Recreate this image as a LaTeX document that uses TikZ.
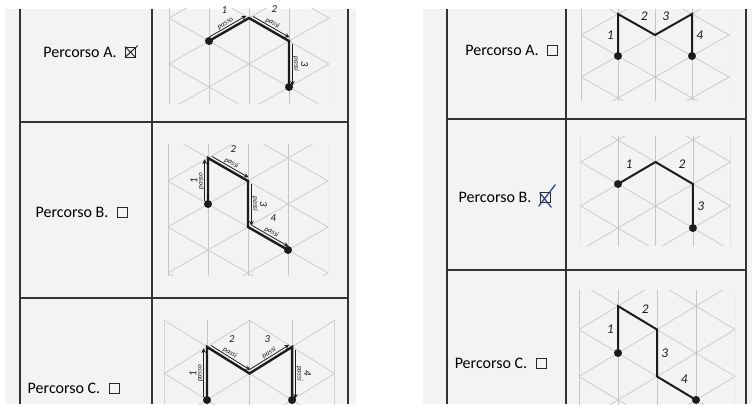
\documentclass[tikz,border=0pt]{standalone}
\usepackage{fontspec}
\setmainfont{Carlito}
\usetikzlibrary{positioning,calc}

\definecolor{paper}{HTML}{F3F3F3}
\definecolor{gridgray}{HTML}{C6C6C6}
\definecolor{ink}{HTML}{1C1C1C}
\definecolor{pen}{HTML}{2B3A8C}

% triangular lattice between rows #1 and #2
\newcommand{\trigrid}[2]{%
  \begin{scope}
    \clip (-1,#1) rectangle (3,#2);
    \foreach \i in {-1,...,3}
      \draw[gridline] (\i,-8) -- (\i,8);
    \foreach \k in {-10,-8,...,10} {
      \draw[gridline] (-1,\k-1) -- (3,\k+3);
      \draw[gridline] (-1,\k+1) -- (3,\k-3);
    }
  \end{scope}}

\begin{document}
\begin{tikzpicture}[x=0.75pt,y=-0.75pt,
    gridline/.style={gridgray,line width=0.5pt},
    tablerule/.style={black!80,line width=0.8pt},
    caption/.style={font=\fontsize{12}{14}\selectfont,inner sep=0pt},
    tickbox/.style={draw=black!85,line width=0.6pt,minimum size=7.5pt,inner sep=0pt},
    route/.style={ink,line width=1.8pt,line join=miter},
    stepnote/.style={sloped,allow upside down,above=3pt,inner sep=0pt,
        font=\fontsize{5.5}{6}\selectfont\itshape,ink},
    stepdigit/.style={inner sep=0pt,font=\fontsize{8}{8}\selectfont\itshape,ink},
    steparrow/.style={->,>=stealth,ink,line width=0.6pt,shorten <=2pt,shorten >=1pt},
    stepnum/.style={auto,inner sep=2.5pt,font=\fontsize{10}{10}\selectfont\itshape,ink}]
    \useasboundingbox (0,0) rectangle (755,404);

    % Draw the two sheets
    \fill[paper] (5,9) rectangle (356,404);
    \fill[paper] (423,9) rectangle (752,404);

    % Draw table rules
    \foreach \x in {20,152,348}
        \draw[tablerule] (\x,9) -- (\x,404);
    \foreach \y in {122,298}
        \draw[tablerule] (20,\y) -- (348,\y);
    \foreach \x in {447,566,746}
        \draw[tablerule] (\x,9) -- (\x,404);
    \foreach \y in {119,270}
        \draw[tablerule] (447,\y) -- (746,\y);

    % Left sheet: captions
    \node[caption] (tLA) at (80,52) {Percorso A.};
    \node[tickbox, right=6pt of tLA] (bLA) {};
    \draw[ink,line width=0.7pt] (bLA.north west) -- (bLA.south east)
        (bLA.south west) -- ($(bLA.north east)+(2,-1)$);
    \node[caption] (tLB) at (72,212) {Percorso B.};
    \node[tickbox, right=6pt of tLB] (bLB) {};
    \node[caption] (tLC) at (64,388) {Percorso C.};
    \node[tickbox, right=6pt of tLC] (bLC) {};

    % Left sheet: path A
    \begin{scope}[shift={(209,41)},x=30pt,y=17.25pt]
        \trigrid{1.4}{-2.7}
        \coordinate (la0) at (0,0);
        \coordinate (la1) at (1,1);
        \coordinate (la2) at (2,0);
        \coordinate (la3) at (2,-2);
    \end{scope}
    \draw[route] (la0) -- (la1) -- (la2) -- (la3);
    \path (la0) -- node[stepnote] (pa1) {passo} (la1);
    \path (la1) -- node[stepnote] (pa2) {passi} (la2);
    \path (la2) -- node[stepnote] (pa3) {passi} (la3);
    \node[stepdigit, above=5.5pt of pa1] {1};
    \node[stepdigit, above=5.5pt of pa2] {2};
    \node[stepdigit, rotate=-90, anchor=south] at ($(pa3.north)+(1,0)$) {3};
    \draw[steparrow] ($(la0)!2.5pt!90:(la1)$) -- ($(la1)!2.5pt!-90:(la0)$);
    \draw[steparrow] ($(la1)!2.5pt!90:(la2)$) -- ($(la2)!2.5pt!-90:(la1)$);
    \draw[steparrow] ($(la2)!2.5pt!90:(la3)$) -- ($(la3)!2.5pt!-90:(la2)$);
    \fill[ink] (la0) circle (3pt) (la3) circle (3pt);

    % Left sheet: path B
    \begin{scope}[shift={(208,204)},x=30pt,y=17.25pt]
        \trigrid{2.57}{-3.1}
        \coordinate (lb0) at (0,0);
        \coordinate (lb1) at (0,2);
        \coordinate (lb2) at (1,1);
        \coordinate (lb3) at (1,-1);
        \coordinate (lb4) at (2,-2);
    \end{scope}
    \draw[route] (lb0) -- (lb1) -- (lb2) -- (lb3) -- (lb4);
    \path (lb0) -- node[stepnote] (pb1) {passo} (lb1);
    \path (lb1) -- node[stepnote] (pb2) {passi} (lb2);
    \path (lb2) -- node[stepnote] (pb3) {passi} (lb3);
    \path (lb3) -- node[stepnote] (pb4) {passi} (lb4);
    \node[stepdigit, rotate=90, anchor=south] at ($(pb1.north)+(-1,0)$) {1};
    \node[stepdigit, above=5.5pt of pb2] {2};
    \node[stepdigit, rotate=-90, anchor=south] at ($(pb3.north)+(1,0)$) {3};
    \node[stepdigit, above=5.5pt of pb4] {4};
    \draw[steparrow] ($(lb0)!2.5pt!90:(lb1)$) -- ($(lb1)!2.5pt!-90:(lb0)$);
    \draw[steparrow] ($(lb1)!2.5pt!90:(lb2)$) -- ($(lb2)!2.5pt!-90:(lb1)$);
    \draw[steparrow] ($(lb2)!2.5pt!90:(lb3)$) -- ($(lb3)!2.5pt!-90:(lb2)$);
    \draw[steparrow] ($(lb3)!2.5pt!90:(lb4)$) -- ($(lb4)!2.5pt!-90:(lb3)$);
    \fill[ink] (lb0) circle (3pt) (lb4) circle (3pt);

    % Left sheet: path C
    \begin{scope}[shift={(207,400)},x=31.9pt,y=19.9pt]
        \trigrid{3.0}{-1.2}
        \coordinate (lc0) at (0,0);
        \coordinate (lc1) at (0,2);
        \coordinate (lc2) at (1,1);
        \coordinate (lc3) at (2,2);
        \coordinate (lc4) at (2,0);
    \end{scope}
    \draw[route] (lc0) -- (lc1) -- (lc2) -- (lc3) -- (lc4);
    \path (lc0) -- node[stepnote] (pc1) {passo} (lc1);
    \path (lc1) -- node[stepnote,pos=0.45] (pc2) {passi} (lc2);
    \path (lc2) -- node[stepnote,pos=0.55] (pc3) {passi} (lc3);
    \path (lc3) -- node[stepnote] (pc4) {passi} (lc4);
    \node[stepdigit, rotate=90, anchor=south] at ($(pc1.north)+(-1,0)$) {1};
    \node[stepdigit, above=5.5pt of pc2] {2};
    \node[stepdigit, above=5.5pt of pc3] {3};
    \node[stepdigit, rotate=-90, anchor=south] at ($(pc4.north)+(1,0)$) {4};
    \draw[steparrow] ($(lc0)!2.5pt!90:(lc1)$) -- ($(lc1)!2.5pt!-90:(lc0)$);
    \draw[steparrow] ($(lc1)!2.5pt!90:(lc2)$) -- ($(lc2)!2.5pt!-90:(lc1)$);
    \draw[steparrow] ($(lc2)!2.5pt!90:(lc3)$) -- ($(lc3)!2.5pt!-90:(lc2)$);
    \draw[steparrow] ($(lc3)!2.5pt!90:(lc4)$) -- ($(lc4)!2.5pt!-90:(lc3)$);
    \fill[ink] (lc0) circle (3pt) (lc4) circle (3pt);

    % Right sheet: captions
    \node[caption] (tRA) at (502,50) {Percorso A.};
    \node[tickbox, right=6pt of tRA] (bRA) {};
    \node[caption] (tRB) at (495,197) {Percorso B.};
    \node[tickbox, right=6pt of tRB] (bRB) {};
    \draw[pen,line width=0.9pt] ($(bRB.south west)+(-1,4)$) -- ($(bRB.north east)+(5,-7)$)
        ($(bRB.north west)+(0,1)$) -- ($(bRB.south east)+(1,5)$);
    \node[caption] (tRC) at (491,363) {Percorso C.};
    \node[tickbox, right=6pt of tRC] (bRC) {};

    % Right sheet: path A
    \begin{scope}[shift={(618,56)},x=27.75pt,y=15.75pt]
        \trigrid{2.2}{-2.1}
        \coordinate (ra0) at (0,0);
        \coordinate (ra1) at (0,2);
        \coordinate (ra2) at (1,1);
        \coordinate (ra3) at (2,2);
        \coordinate (ra4) at (2,0);
    \end{scope}
    \draw[route,line width=1.5pt] (ra0) -- node[stepnum] {1} (ra1)
        -- node[stepnum] {2} (ra2) -- node[stepnum] {3} (ra3) -- node[stepnum] {4} (ra4);
    \fill[ink] (ra0) circle (3pt) (ra4) circle (3pt);

    % Right sheet: path B
    \begin{scope}[shift={(618,184)},x=28.1pt,y=16.5pt]
        \trigrid{2.14}{-2.8}
        \coordinate (rb0) at (0,0);
        \coordinate (rb1) at (1,1);
        \coordinate (rb2) at (2,0);
        \coordinate (rb3) at (2,-2);
    \end{scope}
    \draw[route,line width=1.5pt] (rb0) -- node[stepnum] {1} (rb1)
        -- node[stepnum] {2} (rb2) -- node[stepnum] {3} (rb3);
    \fill[ink] (rb0) circle (3pt) (rb3) circle (3pt);

    % Right sheet: path C
    \begin{scope}[shift={(618,353)},x=29.25pt,y=17.6pt]
        \trigrid{2.68}{-2.6}
        \coordinate (rc0) at (0,0);
        \coordinate (rc1) at (0,2);
        \coordinate (rc2) at (1,1);
        \coordinate (rc3) at (1,-1);
        \coordinate (rc4) at (2,-2);
    \end{scope}
    \draw[route,line width=1.5pt] (rc0) -- node[stepnum] {1} (rc1)
        -- node[stepnum] {2} (rc2) -- node[stepnum] {3} (rc3) -- node[stepnum] {4} (rc4);
    \fill[ink] (rc0) circle (3pt) (rc4) circle (3pt);
\end{tikzpicture}
\end{document}
